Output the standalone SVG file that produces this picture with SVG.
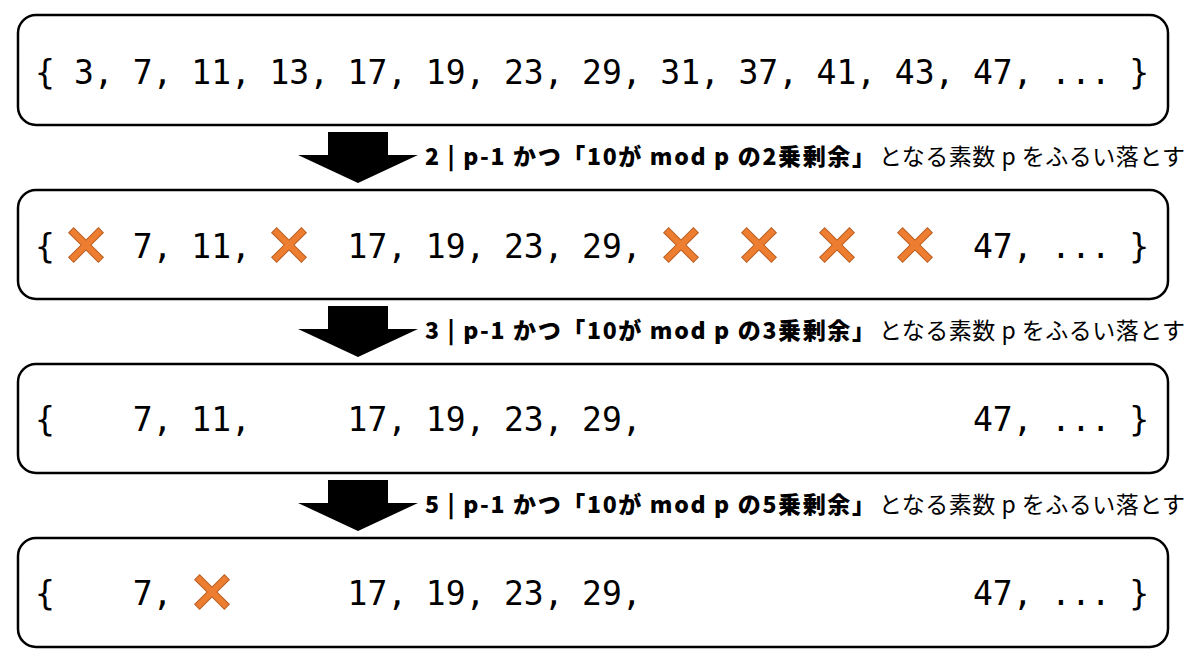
<svg xmlns="http://www.w3.org/2000/svg" xmlns:xlink="http://www.w3.org/1999/xlink" width="1200" height="663" viewBox="0 0 1200 663">
<style>
.box{fill:#fff;stroke:#000;stroke-width:2.5}
.num{font-family:"DejaVu Sans Mono","Liberation Mono",monospace;font-size:33px;fill:#000}
.lb{font-family:"Noto Sans CJK JP",sans-serif;font-size:23px;font-weight:900;fill:#000}
.ln{font-family:"Noto Sans CJK JP",sans-serif;font-size:23px;font-weight:400;fill:#000}
.arrow{fill:#000}
.x{fill:#ED7D31;stroke:#B85E22;stroke-width:1}
</style>
<defs>
<polygon id="xm" class="x" transform="rotate(45)" points="-3.5,-21 3.5,-21 3.5,-3.5 21,-3.5 21,3.5 3.5,3.5 3.5,21 -3.5,21 -3.5,3.5 -21,3.5 -21,-3.5 -3.5,-3.5"/>
<polygon id="arr" class="arrow" points="-30,0 30,0 30,23 60,23 0,51 -60,23 -30,23"/>
</defs>
<rect width="1200" height="663" fill="#fff"/>

<g id="connectors">
<use xlink:href="#arr" x="358" y="132"/>
<use xlink:href="#arr" x="358" y="306"/>
<use xlink:href="#arr" x="358" y="480"/>
<text class="lb" x="425" y="165" xml:space="preserve" textLength="450" lengthAdjust="spacing">2 | p-1 かつ「10が mod p の2乗剰余」</text>
<text class="ln" x="879" y="165" xml:space="preserve" textLength="306" lengthAdjust="spacing">となる素数 p をふるい落とす</text>
<text class="lb" x="425" y="339" xml:space="preserve" textLength="450" lengthAdjust="spacing">3 | p-1 かつ「10が mod p の3乗剰余」</text>
<text class="ln" x="879" y="339" xml:space="preserve" textLength="306" lengthAdjust="spacing">となる素数 p をふるい落とす</text>
<text class="lb" x="425" y="513" xml:space="preserve" textLength="450" lengthAdjust="spacing">5 | p-1 かつ「10が mod p の5乗剰余」</text>
<text class="ln" x="879" y="513" xml:space="preserve" textLength="306" lengthAdjust="spacing">となる素数 p をふるい落とす</text>
</g>

<g id="set0">
<rect class="box" x="18" y="15" width="1150" height="110" rx="18"/>
<text class="num" y="84"><tspan x="35">{</tspan><tspan x="74">3,</tspan><tspan x="132.7">7,</tspan><tspan x="191.3">11,</tspan><tspan x="269.5">13,</tspan><tspan x="347.6">17,</tspan><tspan x="425.8">19,</tspan><tspan x="504">23,</tspan><tspan x="582.1">29,</tspan><tspan x="660.3">31,</tspan><tspan x="738.4">37,</tspan><tspan x="816.6">41,</tspan><tspan x="894.8">43,</tspan><tspan x="972.9">47,</tspan><tspan x="1051.1">...</tspan><tspan x="1129.2">}</tspan></text>
</g>

<g id="set1">
<rect class="box" x="18" y="190" width="1150" height="109" rx="18"/>
<text class="num" y="258"><tspan x="35">{</tspan><tspan x="132.7">7,</tspan><tspan x="191.3">11,</tspan><tspan x="347.6">17,</tspan><tspan x="425.8">19,</tspan><tspan x="504">23,</tspan><tspan x="582.1">29,</tspan><tspan x="972.9">47,</tspan><tspan x="1051.1">...</tspan><tspan x="1129.2">}</tspan></text>
<use xlink:href="#xm" x="86" y="245"/>
<use xlink:href="#xm" x="289" y="245"/>
<use xlink:href="#xm" x="681" y="245"/>
<use xlink:href="#xm" x="759" y="245"/>
<use xlink:href="#xm" x="837" y="245"/>
<use xlink:href="#xm" x="915" y="245"/>
</g>

<g id="set2">
<rect class="box" x="18" y="364" width="1150" height="109" rx="18"/>
<text class="num" y="431"><tspan x="35">{</tspan><tspan x="132.7">7,</tspan><tspan x="191.3">11,</tspan><tspan x="347.6">17,</tspan><tspan x="425.8">19,</tspan><tspan x="504">23,</tspan><tspan x="582.1">29,</tspan><tspan x="972.9">47,</tspan><tspan x="1051.1">...</tspan><tspan x="1129.2">}</tspan></text>
</g>

<g id="set3">
<rect class="box" x="18" y="538" width="1150" height="109" rx="18"/>
<text class="num" y="605"><tspan x="35">{</tspan><tspan x="132.7">7,</tspan><tspan x="347.6">17,</tspan><tspan x="425.8">19,</tspan><tspan x="504">23,</tspan><tspan x="582.1">29,</tspan><tspan x="972.9">47,</tspan><tspan x="1051.1">...</tspan><tspan x="1129.2">}</tspan></text>
<use xlink:href="#xm" x="212" y="592"/>
</g>
</svg>
